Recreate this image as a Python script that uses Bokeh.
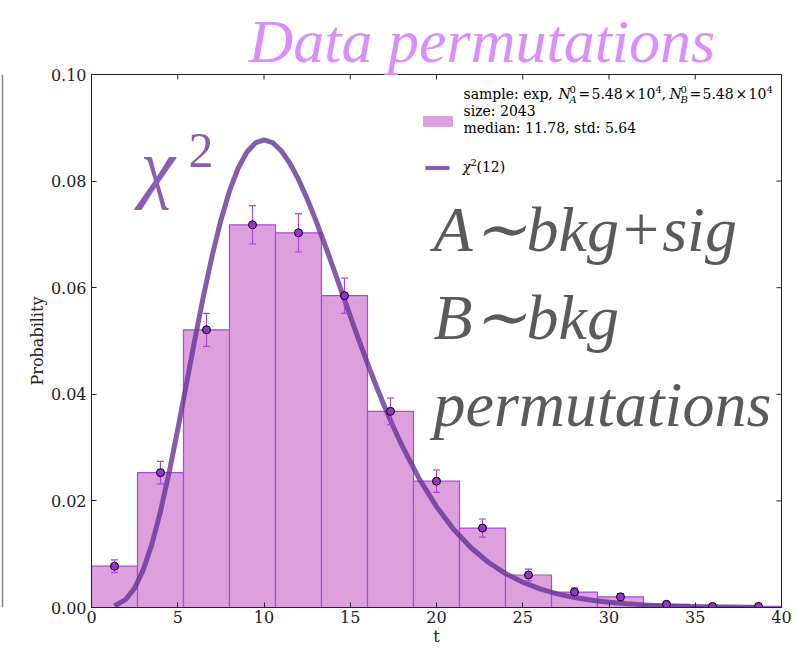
import math

from bokeh.plotting import figure
from bokeh.layouts import row
from bokeh.models import (Range1d, FixedTicker, NumeralTickFormatter,
                          Label, BoxAnnotation, Span)
from bokeh.embed import file_html
from bokeh.resources import INLINE

# ---- data -------------------------------------------------------------
bin_edges = [0.0, 2.667, 5.333, 8.0, 10.667, 13.333, 16.0, 18.667, 21.333,
             24.0, 26.667, 29.333, 32.0, 34.667, 37.333, 40.0]
density = [0.00775, 0.0253, 0.0521, 0.0718, 0.0703, 0.0585, 0.0368, 0.0237,
           0.0149, 0.0061, 0.0029, 0.0020, 0.0006, 0.0002, 0.0002]
errors = [0.0012, 0.0021, 0.0031, 0.0036, 0.0036, 0.0033, 0.0025, 0.0021,
          0.0017, 0.0011, 0.0008, 0.0006, 0.0003, 0.0002, 0.0002]

# chi2(12) density curve
chi2_x = [1.333, 2, 2.5, 3, 3.5, 4, 4.5, 5, 5.5, 6, 6.5, 7, 7.5, 8, 8.5, 9,
          9.5, 10, 10.5, 11, 11.5, 12, 12.5, 13, 13.5, 14, 14.5, 15, 15.5, 16,
          16.5, 17, 17.5, 18, 19, 20, 21, 22, 23, 24, 25, 26, 27, 28, 29, 30,
          31, 32, 33, 34, 35, 36, 37, 38, 38.667]
chi2_y = [0.000282, 0.001533, 0.003643, 0.00706, 0.011884, 0.018045, 0.025325,
          0.033401, 0.041893, 0.050409, 0.058579, 0.066084, 0.072668, 0.078148,
          0.08241, 0.085413, 0.087167, 0.087733, 0.087205, 0.085701, 0.083356,
          0.080312, 0.076711, 0.072682, 0.068362, 0.063858, 0.05927, 0.054687,
          0.050178, 0.045802, 0.041604, 0.037617, 0.033865, 0.030364, 0.024133,
          0.018917, 0.014643, 0.011208, 0.00849, 0.00637, 0.004739, 0.003497,
          0.002561, 0.001863, 0.001347, 0.000968, 0.000692, 0.000492, 0.000348,
          0.000245, 0.000172, 0.00012, 0.0000834, 0.0000578, 0.000045]

x_ticks = [0, 5, 10, 15, 20, 25, 30, 35, 40]
y_ticks = [0.0, 0.02, 0.04, 0.06, 0.08, 0.10]

X_MIN, X_MAX = 0, 40
Y_MIN, Y_MAX = 0.0, 0.10

lefts = bin_edges[:-1]
rights = bin_edges[1:]
centers = [(a + b) / 2 for a, b in zip(lefts, rights)]
lower = [d - e for d, e in zip(density, errors)]
upper = [d + e for d, e in zip(density, errors)]

# ---- styling ----------------------------------------------------------
SERIF = "DejaVu Serif"
BIG = "Liberation Serif"
AXIS = "#222222"
BAR_FILL = "#dda0dd"
BAR_EDGE = "#a64ad8"
ERR = "#a845dd"
CURVE = "#663399"

LEFT_W = 4            # sliver of the neighbouring panel
FRAME_L = 91          # page x of the frame's left edge
FRAME_B = 607         # page y of the frame's bottom edge
BASELINE_FIX = 0.4    # alphabetic baseline lands this many em low

p = figure(width=797 - LEFT_W, height=648, output_backend="svg",
           toolbar_location=None, x_range=Range1d(X_MIN, X_MAX),
           y_range=Range1d(Y_MIN, Y_MAX),
           min_border_left=FRAME_L - LEFT_W, min_border_right=16,
           min_border_top=74, min_border_bottom=41)
p.background_fill_color = "white"
p.border_fill_color = "white"
p.outline_line_color = AXIS
p.xgrid.grid_line_color = None
p.ygrid.grid_line_color = None

# headline
p.title.text = "Data permutations"
p.title.text_font = BIG
p.title.text_font_style = "italic"
p.title.text_font_size = "62px"
p.title.text_color = "#d98eff"
p.title.align = "left"
p.title.offset = 157
p.title.standoff = 0
p.title.vertical_align = "bottom"

for ax, ticks in ((p.xaxis[0], x_ticks), (p.yaxis[0], y_ticks)):
    ax.ticker = FixedTicker(ticks=ticks)
    ax.major_tick_in = 5
    ax.major_tick_out = 0
    ax.minor_tick_line_color = None
    ax.axis_line_color = AXIS
    ax.major_tick_line_color = AXIS
    ax.major_label_text_font = SERIF
    ax.major_label_text_font_size = "16px"
    ax.major_label_text_color = AXIS
    ax.axis_label_text_font = SERIF
    ax.axis_label_text_font_size = "16px"
    ax.axis_label_text_font_style = "normal"
    ax.axis_label_text_color = AXIS
    ax.axis_label_standoff = 1
p.xaxis.major_label_standoff = 3
p.yaxis.major_label_standoff = 5
p.yaxis.formatter = NumeralTickFormatter(format="0.00")
p.xaxis.axis_label = "t"
p.yaxis.axis_label = "Probability"

# inward ticks on the top and right edges (half of each dash is clipped)
p.scatter(x_ticks, [Y_MAX] * len(x_ticks), marker="dash", angle=math.pi / 2,
          size=10, line_color=AXIS, line_width=1)
p.scatter([X_MAX] * len(y_ticks), y_ticks, marker="dash",
          size=10, line_color=AXIS, line_width=1)

# histogram bars
p.quad(left=lefts, right=rights, bottom=0, top=density,
       fill_color=BAR_FILL, line_color=BAR_EDGE, line_width=1.2)

# chi2(12) curve
p.line(chi2_x, chi2_y, line_color=CURVE, line_alpha=0.8, line_width=5,
       line_join="round")

# error bars with caps, then the points
p.segment(x0=centers, y0=lower, x1=centers, y1=upper,
          line_color=ERR, line_width=1.2)
p.scatter(centers, upper, marker="dash", size=7, line_color=ERR, line_width=1.2)
p.scatter(centers, lower, marker="dash", size=7, line_color=ERR, line_width=1.2)
p.scatter(centers, density, marker="circle", size=8,
          fill_color="#9932cc", line_color="black", line_width=1)


def put(text, px, py, size, color="black", font=SERIF, style="normal"):
    """Place a text label by page pixel position (baseline at py)."""
    px_size = float(size.rstrip("px"))
    p.add_layout(Label(x=px - FRAME_L,
                       y=FRAME_B - py + BASELINE_FIX * px_size,
                       x_units="screen", y_units="screen", text=text,
                       text_font=font, text_font_size=size,
                       text_font_style=style, text_color=color,
                       text_baseline="alphabetic", text_align="left"))


# annotations inside the frame
put("χ", 140, 197, "78px", "#8a5db4", BIG, "italic")
put("2", 188, 170, "50px", "#8a5db4", BIG)
put("A∼bkg+sig", 433, 255, "64px", "#5a5a5a", BIG, "italic")
put("B∼bkg", 433, 343, "64px", "#5a5a5a", BIG, "italic")
put("permutations", 433, 430, "64px", "#5a5a5a", BIG, "italic")

# legend: histogram entry
p.add_layout(BoxAnnotation(left=423 - FRAME_L, right=452 - FRAME_L,
                           top=FRAME_B - 116, bottom=FRAME_B - 126,
                           left_units="screen", right_units="screen",
                           top_units="screen", bottom_units="screen",
                           fill_color=BAR_FILL, fill_alpha=1.0,
                           line_color=BAR_EDGE, line_width=1.2))
put("sample: exp,", 463, 99, "14px")
for dx, sub in ((0, "A"), (111, "B")):
    put("N", 558 + dx, 99, "14px", style="italic")
    put("0", 569 + dx, 93, "10px")
    put(sub, 569 + dx, 103, "10px", style="italic")
    put("=", 578 + dx, 99, "14px")
    put("5.48", 591 + dx, 99, "14px")
    put("×", 624 + dx, 99, "14px")
    put("10", 637 + dx, 99, "14px")
    put("4", 655 + dx, 93, "10px")
put(",", 661, 99, "14px")
put("size: 2043", 463, 116, "14px")
put("median: 11.78, std: 5.64", 463, 133, "14px")

# legend: curve entry
p.add_layout(BoxAnnotation(left=425 - FRAME_L, right=449 - FRAME_L,
                           top=FRAME_B - 165.5, bottom=FRAME_B - 169.5,
                           left_units="screen", right_units="screen",
                           top_units="screen", bottom_units="screen",
                           fill_color=CURVE, fill_alpha=0.8, line_color=None))
put("χ", 462, 172, "14px", style="italic")
put("2", 470, 166, "10px")
put("(12)", 476, 172, "14px")

# right edge of the neighbouring panel
p0 = figure(width=LEFT_W, height=648, output_backend="svg",
            toolbar_location=None, x_range=Range1d(0, LEFT_W),
            y_range=Range1d(0, 1), min_border_left=0, min_border_right=0,
            min_border_top=74, min_border_bottom=41)
p0.axis.visible = False
p0.grid.visible = False
p0.outline_line_color = None
p0.border_fill_color = "white"
p0.add_layout(Span(location=2, dimension="height", line_color="#888888",
                   line_width=1.5))

layout = row(p0, p)
open("out.html", "w").write(file_html(layout, INLINE))
